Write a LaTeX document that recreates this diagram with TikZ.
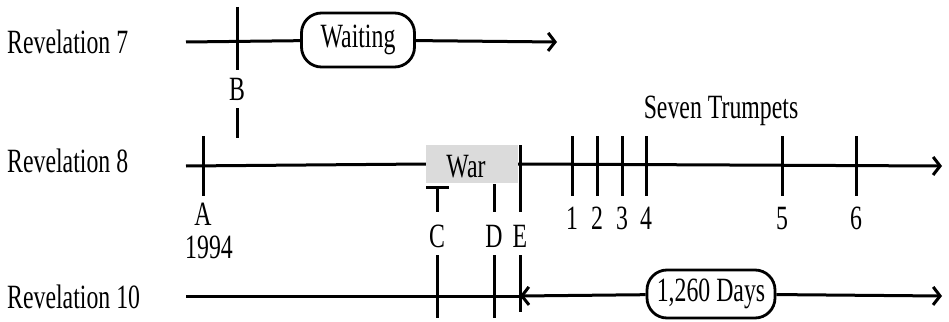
\documentclass[tikz,border=0pt]{standalone}
\usepackage{fontspec}
\setmainfont{Liberation Serif}[FakeStretch=0.70]
\usetikzlibrary{arrows.meta}
\tikzset{
  tline/.style={line width=3pt},
  lab/.style={inner sep=0pt,anchor=base},
  period/.style={draw,line width=2.8pt,rounded corners=20pt,fill=white,inner sep=0pt},
  warbox/.style={fill=gray!28,inner sep=0pt,minimum width=92pt,minimum height=38pt}
}
\begin{document}
\begin{tikzpicture}[x=1pt,y=-1pt,>={Straight Barb[length=7pt,width=18pt]},
  font=\fontsize{34}{36}\selectfont]
  \useasboundingbox (0,0) rectangle (949,321);

  % Revelation 7
  \node[lab,anchor=base west] (rev7) at (7,53) {Revelation 7};
  \coordinate (r7s) at (186,42);
  \coordinate (r7e) at (557,42);
  \node[period,minimum width=113pt,minimum height=54pt] (wait) at (358,40) {Waiting};
  \draw[tline] (r7s) -- (wait);
  \draw[tline,->] (wait) -- (r7e);
  \draw[tline] (237,7) -- (237,70);
  \draw[tline] (237,108) -- (237,138);
  \node[lab] (b) at (237,100) {B};

  % Revelation 8
  \node[lab,anchor=base west] (rev8) at (7,172) {Revelation 8};
  \coordinate (r8s) at (186,166);
  \coordinate (r8e) at (942,166);
  \node[warbox] (war) at (472,164) {};
  \node[lab] (wartxt) at (466,177) {War};
  \draw[tline] (r8s) -- (war.west);
  \draw[tline,->] (war.east) -- (r8e);
  \draw[tline] (203,136) -- (203,196);
  \node[lab] (a) at (203,225) {A};
  \node[lab] (year) at (209,258) {1994};
  \draw[tline] (426,187) -- (449,187);
  \draw[tline] (437,187) -- (437,212);
  \draw[tline] (494,184) -- (494,212);
  \draw[tline] (520,145) -- (520,212);
  \foreach \x/\n in {437/C,494/D,520/E} {
    \node[lab] (m\n) at (\x,247) {\n};
  }
  % Trumpets
  \foreach \x/\n in {572/1,597/2,622/3,646/4,782/5,856/6} {
    \draw[tline] (\x,136) -- (\x,196);
    \node[lab] (t\n) at (\x,229) {\n};
  }
  \node[lab] (trumpets) at (721,118) {Seven Trumpets};

  % Revelation 10
  \node[lab,anchor=base west] (rev10) at (7,308) {Revelation 10};
  \coordinate (r10s) at (186,296);
  \coordinate (r10m) at (520,296);
  \coordinate (r10e) at (942,296);
  \node[period,minimum width=128pt,minimum height=48pt] (days) at (711,294) {1,260 Days};
  \draw[tline] (r10s) -- (r10m);
  \draw[tline,<-] (r10m) -- (days);
  \draw[tline,->] (days) -- (r10e);
  \foreach \x in {437,494} {
    \draw[tline] (\x,255) -- (\x,318);
  }
  \draw[tline] (520,255) -- (520,312);
\end{tikzpicture}
\end{document}
